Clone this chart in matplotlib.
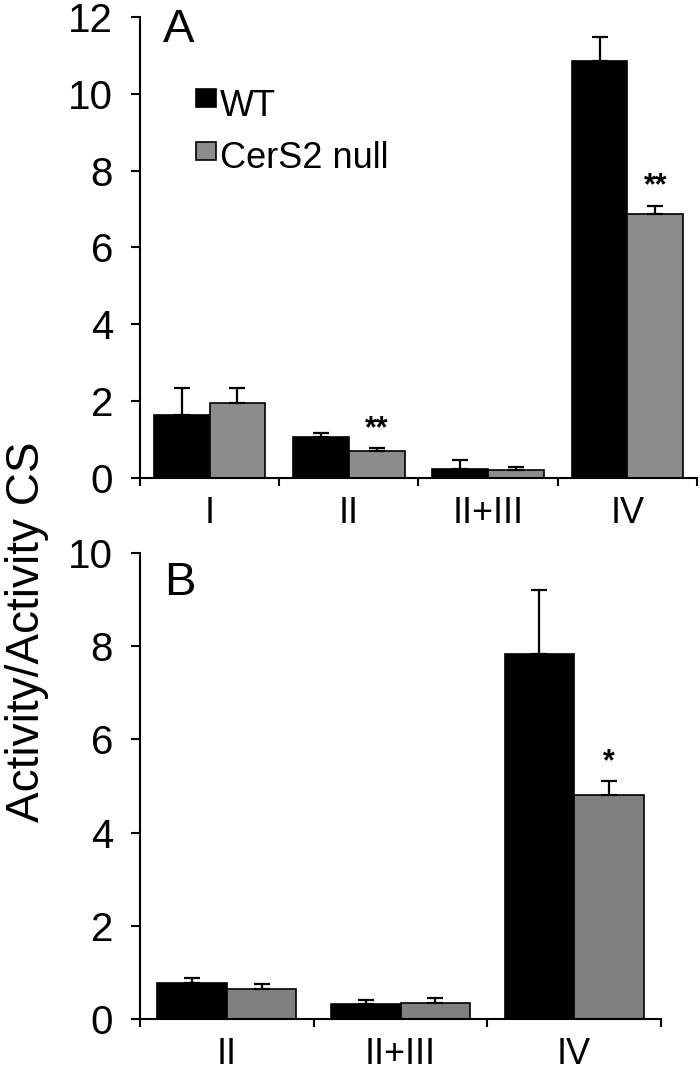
import matplotlib
matplotlib.use("Agg")
import matplotlib.pyplot as plt
import numpy as np
from matplotlib.patches import Rectangle

plt.rcParams['font.family'] = ['Liberation Sans', 'DejaVu Sans']

# ---- data ----
series_names = ['WT', 'CerS2 null']

A_cats = ['I', 'II', 'II+III', 'IV']
A_wt = [1.63, 1.07, 0.24, 10.85]
A_wt_err = [0.70, 0.11, 0.24, 0.63]
A_ko = [1.94, 0.70, 0.22, 6.87]
A_ko_err = [0.39, 0.07, 0.06, 0.21]
A_sig = ['', '**', '', '**']

B_cats = ['II', 'II+III', 'IV']
B_wt = [0.78, 0.32, 7.83]
B_wt_err = [0.09, 0.09, 1.38]
B_ko = [0.64, 0.34, 4.80]
B_ko_err = [0.11, 0.12, 0.30]
B_sig = ['', '', '*']

A_yticks = [0, 2, 4, 6, 8, 10, 12]
B_yticks = [0, 2, 4, 6, 8, 10]

WT_COLOR = '#000000'
A_KO_COLOR = '#8c8c8c'
B_KO_COLOR = '#808080'

fig = plt.figure(figsize=(7, 10.7), dpi=100)
axA = fig.add_axes([0.2, 0.5533, 0.7957, 0.4308])
axB = fig.add_axes([0.2, 0.0477, 0.7443, 0.4355])


def draw(ax, cats, wt, wt_err, ko, ko_err, sig, ko_color, yticks, label, label_pos, sig_off):
    n = len(cats)
    x = np.arange(n) + 0.5
    w = 0.4
    ekw = dict(ecolor='black', elinewidth=1.6, capsize=5.5, capthick=1.6)
    ax.bar(x - w / 2, wt, w, color=WT_COLOR, edgecolor='black', linewidth=1.2,
           yerr=[np.zeros(n), wt_err], error_kw=ekw, zorder=2)
    ax.bar(x + w / 2, ko, w, color=ko_color, edgecolor='black', linewidth=1.2,
           yerr=[np.zeros(n), ko_err], error_kw=ekw, zorder=2)
    for xi, v, e, s in zip(x + w / 2, ko, ko_err, sig):
        if s:
            ax.annotate(s, (xi, v + e), xytext=(0, sig_off), textcoords='offset points',
                        ha='center', va='center', fontsize=22, fontweight='bold')
    ax.set_xlim(0, n)
    ax.set_ylim(yticks[0], yticks[-1])
    ax.set_yticks(yticks)
    ax.set_yticklabels([str(t) for t in yticks])
    ax.set_xticks(x)
    ax.set_xticklabels(cats)
    ax.set_xticks(np.arange(n + 1), minor=True)
    ax.tick_params(axis='x', which='major', length=0, pad=13, labelsize=26)
    ax.tick_params(axis='x', which='minor', length=6, width=1.5, direction='out')
    ax.tick_params(axis='y', which='major', length=6.5, width=1.5, direction='out',
                   pad=13, labelsize=29)
    for side in ['top', 'right']:
        ax.spines[side].set_visible(False)
    for side in ['left', 'bottom']:
        ax.spines[side].set_linewidth(1.5)
    ax.text(label_pos[0], label_pos[1], label, transform=ax.transAxes,
            fontsize=34, ha='left', va='baseline')


draw(axA, A_cats, A_wt, A_wt_err, A_ko, A_ko_err, A_sig, A_KO_COLOR, A_yticks, 'A',
     (0.041, 0.946), 14)
draw(axB, B_cats, B_wt, B_wt_err, B_ko, B_ko_err, B_sig, B_KO_COLOR, B_yticks, 'B',
     (0.046, 0.910), 14)

# legend (manual, panel A)
leg_colors = [WT_COLOR, A_KO_COLOR]
sq_bottoms = [0.805, 0.690]
baselines = [0.785, 0.672]
for name, c, sb, bl in zip(series_names, leg_colors, sq_bottoms, baselines):
    axA.add_patch(Rectangle((0.1, sb), 0.036, 0.038, transform=axA.transAxes,
                            facecolor=c, edgecolor='black', linewidth=1.2, clip_on=False))
    axA.text(0.143, bl, name, transform=axA.transAxes, fontsize=26,
             ha='left', va='baseline')

fig.text(0.038, 0.41, 'Activity/Activity CS', rotation=90, fontsize=33,
         ha='center', va='center')

fig.savefig('out.png', dpi=100)
